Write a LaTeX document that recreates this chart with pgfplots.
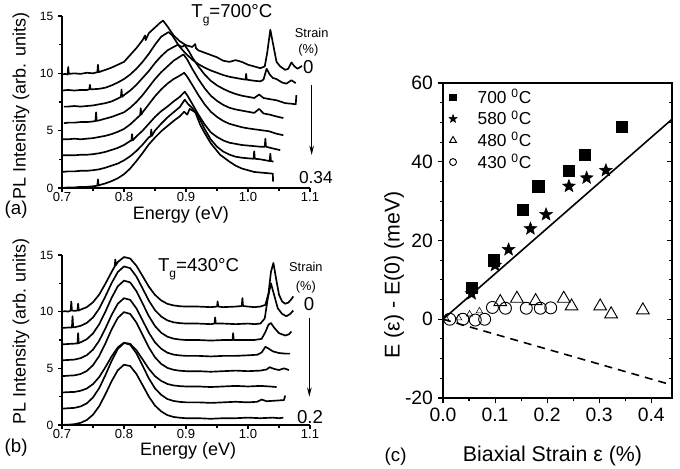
\documentclass[border=0pt]{standalone}
\usepackage{fontspec}
\setmainfont{Liberation Sans}
\usepackage{pgfplots}
\pgfplotsset{compat=1.18}
\usetikzlibrary{arrows.meta}

% filled five-point star
\pgfdeclareplotmark{fstar}{%
  \pgfpathmoveto{\pgfpointpolar{90}{\pgfplotmarksize}}%
  \pgfpathlineto{\pgfpointpolar{126}{0.42\pgfplotmarksize}}%
  \pgfpathlineto{\pgfpointpolar{162}{\pgfplotmarksize}}%
  \pgfpathlineto{\pgfpointpolar{198}{0.42\pgfplotmarksize}}%
  \pgfpathlineto{\pgfpointpolar{234}{\pgfplotmarksize}}%
  \pgfpathlineto{\pgfpointpolar{270}{0.42\pgfplotmarksize}}%
  \pgfpathlineto{\pgfpointpolar{306}{\pgfplotmarksize}}%
  \pgfpathlineto{\pgfpointpolar{342}{0.42\pgfplotmarksize}}%
  \pgfpathlineto{\pgfpointpolar{18}{\pgfplotmarksize}}%
  \pgfpathlineto{\pgfpointpolar{54}{0.42\pgfplotmarksize}}%
  \pgfpathclose
  \pgfusepathqfillstroke
}

\pgfplotsset{
  spec/.style={
    scale only axis, axis lines=left, axis line style={-, line width=0.8pt},
    xmin=0.7, xmax=1.1, ymin=0, ymax=15,
    xtick={0.7,0.8,0.9,1.0,1.1}, xticklabels={0.7,0.8,0.9,1.0,1.1},
    ytick={0,5,10,15}, yticklabels={0,5,10,15},
    minor x tick num=1, minor y tick num=1,
    tick align=outside, major tick length=3pt, minor tick length=2pt,
    tick style={line width=0.8pt, black},
    xticklabel style={font=\fontsize{9.8}{11}\selectfont, inner sep=0.5pt, yshift=0.3pt},
    yticklabel style={font=\fontsize{9}{10}\selectfont},
    label style={font=\fontsize{13.5}{15}\selectfont},
    clip=false,
  },
  crv/.style={black, line width=1.25pt, line join=round},
  limg/.style={legend image code/.code={%
    \draw[##1, mark size=#1] plot coordinates {(0.22cm,0cm)};
    \path (0pt,0pt) (22.5pt,0pt);}},
}

\begin{document}
\begin{tikzpicture}
\path[use as bounding box] (0,0) rectangle (510pt,351pt);

% ---------------- (a) Tg = 700 C
\begin{axis}[spec, at={(46.5pt,210pt)}, anchor=south west, width=186pt, height=129pt,
  xlabel={Energy (eV)}, ylabel={PL Intensity (arb. units)},
  xlabel style={at={(axis description cs:0.479,0)}, anchor=base, yshift=-23.5pt},
  ylabel style={at={(axis description cs:-0.165,0.477)}, anchor=center}]
\addplot[crv] coordinates {(0.700,9.9)(0.705,9.95)(0.709,9.9)(0.710,10.55)(0.711,9.95)(0.720,10.0)(0.730,9.95)(0.740,10.05)(0.750,10.0)(0.757,10.1)(0.758,10.75)(0.759,10.1)(0.770,10.3)(0.780,10.5)(0.790,10.75)(0.800,11.0)(0.810,11.6)(0.820,12.2)(0.830,12.9)(0.834,13.3)(0.835,12.9)(0.840,13.5)(0.850,14.0)(0.858,14.4)(0.863,14.6)(0.870,14.1)(0.880,13.3)(0.890,12.8)(0.900,12.45)(0.910,12.3)(0.915,12.55)(0.916,12.2)(0.920,12.0)(0.930,11.8)(0.940,11.6)(0.950,11.4)(0.960,11.1)(0.970,11.0)(0.980,11.15)(0.990,11.0)(1.000,10.75)(1.010,10.6)(1.020,10.45)(1.027,10.6)(1.031,11.8)(1.036,13.8)(1.041,12.4)(1.046,11.0)(1.052,10.6)(1.060,10.3)(1.065,10.4)(1.070,10.95)(1.075,10.6)(1.080,10.4)(1.087,10.65)};
\addplot[crv] coordinates {(0.700,8.5)(0.710,8.55)(0.720,8.5)(0.730,8.55)(0.740,8.55)(0.744,8.6)(0.745,9.0)(0.746,8.6)(0.760,8.65)(0.770,8.75)(0.780,8.95)(0.790,9.2)(0.800,9.5)(0.810,9.9)(0.820,10.4)(0.830,11.0)(0.840,11.7)(0.850,12.5)(0.860,13.2)(0.872,13.6)(0.878,13.3)(0.885,12.7)(0.890,12.3)(0.900,11.7)(0.910,11.2)(0.920,10.8)(0.930,10.5)(0.940,10.25)(0.950,10.05)(0.960,9.85)(0.970,9.7)(0.980,9.6)(0.990,9.5)(0.996,9.45)(0.997,9.95)(0.998,9.45)(1.010,9.35)(1.020,9.3)(1.025,9.45)(1.030,10.4)(1.035,9.9)(1.040,9.6)(1.046,9.5)(1.055,9.2)(1.062,9.1)(1.070,9.4)(1.077,9.15)};
\addplot[crv] coordinates {(0.703,7.1)(0.710,7.1)(0.720,7.15)(0.730,7.1)(0.740,7.15)(0.750,7.2)(0.760,7.3)(0.770,7.4)(0.780,7.55)(0.790,7.8)(0.795,7.95)(0.796,8.6)(0.797,7.95)(0.800,8.1)(0.810,8.5)(0.820,9.0)(0.830,9.6)(0.840,10.2)(0.850,10.9)(0.860,11.5)(0.870,12.0)(0.880,12.3)(0.887,12.5)(0.893,12.3)(0.898,12.45)(0.905,11.9)(0.910,11.4)(0.920,10.6)(0.930,9.9)(0.940,9.35)(0.950,8.95)(0.960,8.65)(0.970,8.4)(0.980,8.2)(0.990,8.05)(1.000,7.95)(1.010,7.85)(1.018,8.15)(1.025,7.85)(1.035,7.75)(1.046,7.65)(1.060,7.4)(1.070,7.35)(1.077,7.3)(1.078,8.1)};
\addplot[crv] coordinates {(0.703,5.65)(0.710,5.7)(0.720,5.7)(0.730,5.75)(0.740,5.75)(0.750,5.8)(0.754,5.85)(0.755,6.6)(0.756,5.85)(0.760,5.9)(0.770,6.05)(0.780,6.2)(0.790,6.4)(0.800,6.6)(0.810,7.0)(0.820,7.5)(0.830,8.1)(0.840,8.8)(0.850,9.5)(0.860,10.1)(0.870,10.6)(0.880,11.1)(0.890,11.45)(0.896,11.65)(0.902,11.2)(0.910,10.4)(0.920,9.5)(0.930,8.7)(0.940,8.05)(0.950,7.6)(0.960,7.25)(0.970,7.0)(0.980,6.85)(0.990,6.75)(1.000,6.65)(1.010,6.55)(1.018,6.9)(1.025,6.5)(1.035,6.4)(1.045,6.25)(1.057,6.1)};
\addplot[crv] coordinates {(0.700,4.25)(0.710,4.25)(0.720,4.3)(0.730,4.25)(0.740,4.3)(0.750,4.35)(0.760,4.45)(0.770,4.55)(0.780,4.7)(0.790,4.9)(0.800,5.15)(0.810,5.55)(0.820,6.05)(0.826,6.35)(0.827,6.95)(0.828,6.4)(0.830,6.6)(0.840,7.3)(0.850,8.0)(0.860,8.6)(0.870,9.1)(0.880,9.5)(0.890,9.8)(0.897,10.05)(0.902,9.7)(0.910,9.0)(0.920,8.1)(0.930,7.3)(0.940,6.65)(0.950,6.2)(0.960,5.85)(0.970,5.6)(0.980,5.45)(0.990,5.3)(1.000,5.2)(1.020,5.05)(1.034,4.95)(1.045,4.75)(1.057,4.6)};
\addplot[crv] coordinates {(0.700,2.85)(0.710,2.85)(0.720,2.85)(0.730,2.9)(0.740,2.9)(0.750,2.95)(0.760,3.03)(0.770,3.15)(0.780,3.32)(0.790,3.5)(0.800,3.75)(0.810,4.1)(0.812,4.15)(0.813,4.7)(0.814,4.15)(0.820,4.5)(0.830,5.0)(0.840,5.6)(0.850,6.2)(0.860,6.7)(0.870,7.1)(0.880,7.55)(0.890,7.95)(0.898,8.4)(0.903,8.0)(0.910,7.35)(0.920,6.4)(0.930,5.55)(0.940,4.85)(0.950,4.45)(0.960,4.15)(0.970,3.95)(0.980,3.85)(0.990,3.75)(1.000,3.7)(1.010,3.65)(1.020,3.6)(1.027,3.6)(1.028,4.3)(1.029,3.6)(1.040,3.45)(1.052,3.3)};
\addplot[crv] coordinates {(0.700,1.4)(0.710,1.45)(0.720,1.45)(0.730,1.5)(0.740,1.5)(0.750,1.55)(0.760,1.63)(0.770,1.77)(0.780,1.95)(0.790,2.13)(0.800,2.41)(0.810,2.77)(0.820,3.23)(0.830,3.78)(0.840,4.42)(0.843,4.5)(0.844,5.1)(0.845,4.55)(0.850,5.01)(0.860,5.61)(0.870,6.15)(0.880,6.61)(0.890,7.06)(0.898,7.7)(0.903,7.34)(0.910,6.98)(0.920,6.25)(0.930,5.15)(0.940,4.23)(0.950,3.6)(0.960,3.18)(0.970,2.91)(0.980,2.73)(0.990,2.64)(1.000,2.59)(1.009,2.55)(1.010,3.2)(1.011,2.55)(1.020,2.5)(1.030,2.4)(1.035,2.35)(1.036,3.0)(1.037,2.35)(1.041,2.3)};
\addplot[crv] coordinates {(0.700,0.0)(0.710,0.05)(0.720,0.05)(0.730,0.1)(0.740,0.1)(0.750,0.15)(0.757,0.2)(0.758,0.75)(0.759,0.2)(0.760,0.25)(0.770,0.4)(0.780,0.6)(0.790,0.85)(0.800,1.2)(0.810,1.7)(0.820,2.35)(0.830,3.05)(0.840,3.8)(0.850,4.4)(0.860,4.95)(0.870,5.4)(0.880,5.85)(0.890,6.25)(0.897,6.65)(0.902,6.4)(0.906,6.9)(0.915,6.6)(0.923,5.5)(0.930,4.8)(0.940,3.9)(0.955,2.9)(0.970,2.3)(0.980,1.95)(0.990,1.7)(1.000,1.55)(1.010,1.4)(1.020,1.35)(1.030,1.3)(1.040,1.25)(1.0405,0.55)};
\end{axis}

% ---------------- (b) Tg = 430 C
\begin{axis}[spec, at={(46.5pt,32.25pt)}, anchor=south west, width=186pt, height=127.5pt,
  xlabel={Energy (eV)}, ylabel={PL Intensity (arb. units)},
  xlabel style={at={(axis description cs:0.509,0)}, anchor=base, yshift=-23pt},
  ylabel style={at={(axis description cs:-0.165,0.55)}, anchor=center}]
\addplot[crv] coordinates {(0.700,10.0)(0.705,10.05)(0.710,10.0)(0.714,10.1)(0.715,10.9)(0.716,10.1)(0.720,10.07)(0.725,10.1)(0.726,10.7)(0.727,10.1)(0.730,10.18)(0.740,10.4)(0.750,10.83)(0.760,11.51)(0.770,12.47)(0.780,13.5)(0.785,14.0)(0.786,14.6)(0.787,14.1)(0.790,14.38)(0.800,14.82)(0.810,14.69)(0.820,14.05)(0.830,13.14)(0.840,12.21)(0.850,11.48)(0.860,10.99)(0.870,10.69)(0.880,10.55)(0.890,10.48)(0.900,10.45)(0.920,10.45)(0.940,10.4)(0.950,10.45)(0.951,10.9)(0.952,10.45)(0.960,10.4)(0.980,10.45)(0.990,10.5)(0.991,11.2)(0.992,10.5)(1.000,10.45)(1.010,10.4)(1.020,10.45)(1.028,10.6)(1.033,11.6)(1.037,13.5)(1.041,14.3)(1.045,13.0)(1.050,11.5)(1.055,10.9)(1.060,10.7)(1.065,10.8)(1.070,11.1)(1.073,11.35)};
\addplot[crv] coordinates {(0.700,8.56)(0.710,8.6)(0.716,8.6)(0.717,9.6)(0.718,8.62)(0.720,8.62)(0.730,8.75)(0.740,9.01)(0.750,9.49)(0.760,10.27)(0.770,11.35)(0.780,12.52)(0.790,13.5)(0.800,13.99)(0.810,13.84)(0.820,13.1)(0.830,12.05)(0.840,10.98)(0.850,10.13)(0.860,9.57)(0.870,9.23)(0.880,9.06)(0.890,8.99)(0.900,8.95)(0.920,8.95)(0.940,8.9)(0.946,8.95)(0.947,9.5)(0.948,8.95)(0.960,8.95)(0.980,8.9)(1.000,8.95)(1.010,8.9)(1.020,8.95)(1.027,9.4)(1.032,11.2)(1.037,12.5)(1.042,11.5)(1.048,10.3)(1.055,9.8)(1.062,9.6)(1.068,9.8)(1.073,10.1)};
\addplot[crv] coordinates {(0.700,7.11)(0.710,7.15)(0.720,7.18)(0.725,7.2)(0.726,8.1)(0.727,7.22)(0.730,7.3)(0.740,7.57)(0.750,8.08)(0.760,8.89)(0.770,10.0)(0.780,11.22)(0.790,12.24)(0.800,12.74)(0.810,12.58)(0.820,11.81)(0.830,10.72)(0.840,9.61)(0.850,8.73)(0.860,8.14)(0.870,7.79)(0.880,7.62)(0.890,7.54)(0.900,7.5)(0.920,7.5)(0.940,7.45)(0.960,7.5)(0.975,7.5)(0.976,8.1)(0.977,7.5)(0.990,7.5)(1.010,7.5)(1.022,7.6)(1.028,8.2)(1.033,8.85)(1.037,9.0)(1.042,8.6)(1.050,8.1)(1.060,7.9)(1.066,8.0)(1.070,8.25)};
\addplot[crv] coordinates {(0.700,5.71)(0.710,5.74)(0.720,5.77)(0.730,5.9)(0.740,6.16)(0.750,6.65)(0.760,7.44)(0.770,8.52)(0.780,9.71)(0.790,10.7)(0.800,11.19)(0.810,11.04)(0.820,10.29)(0.830,9.23)(0.840,8.15)(0.850,7.29)(0.860,6.73)(0.870,6.38)(0.880,6.21)(0.890,6.14)(0.900,6.1)(0.920,6.1)(0.940,6.05)(0.960,6.1)(0.980,6.1)(1.000,6.15)(1.015,6.2)(1.022,6.4)(1.028,6.9)(1.033,6.75)(1.040,6.5)(1.050,6.35)(1.060,6.3)(1.068,6.3)};
\addplot[crv] coordinates {(0.700,4.31)(0.710,4.35)(0.720,4.38)(0.730,4.5)(0.740,4.77)(0.750,5.28)(0.760,6.09)(0.770,7.2)(0.780,8.43)(0.790,9.45)(0.800,9.96)(0.810,9.8)(0.820,9.04)(0.830,7.95)(0.840,6.85)(0.850,5.97)(0.860,5.39)(0.870,5.04)(0.880,4.87)(0.890,4.79)(0.900,4.75)(0.920,4.75)(0.940,4.7)(0.960,4.75)(0.980,4.8)(1.000,4.75)(1.020,4.8)(1.030,4.9)(1.035,5.1)(1.042,4.95)(1.050,4.85)(1.058,5.0)(1.066,4.85)};
\addplot[crv] coordinates {(0.700,2.87)(0.710,2.9)(0.720,2.92)(0.730,3.02)(0.740,3.22)(0.750,3.61)(0.760,4.23)(0.770,5.1)(0.780,6.05)(0.790,6.85)(0.800,7.26)(0.810,7.16)(0.820,6.6)(0.830,5.79)(0.840,4.96)(0.850,4.31)(0.860,3.89)(0.870,3.62)(0.880,3.49)(0.890,3.43)(0.900,3.4)(0.920,3.4)(0.940,3.35)(0.960,3.4)(0.980,3.45)(1.000,3.4)(1.020,3.45)(1.035,3.4)(1.046,3.35)};
\addplot[crv] coordinates {(0.700,1.44)(0.710,1.48)(0.720,1.51)(0.730,1.64)(0.740,1.91)(0.750,2.43)(0.760,3.25)(0.770,4.4)(0.780,5.65)(0.790,6.71)(0.800,7.24)(0.810,7.09)(0.820,6.32)(0.830,5.23)(0.840,4.12)(0.850,3.23)(0.860,2.66)(0.870,2.29)(0.880,2.12)(0.890,2.04)(0.900,2.0)(0.920,2.0)(0.940,1.95)(0.960,2.0)(0.980,2.05)(1.000,2.0)(1.015,2.05)(1.022,2.25)(1.030,2.1)(1.045,2.15)(1.058,2.2)(1.060,2.6)};
\addplot[crv] coordinates {(0.700,0.01)(0.710,0.03)(0.720,0.07)(0.730,0.19)(0.740,0.44)(0.750,0.91)(0.760,1.66)(0.770,2.71)(0.780,3.86)(0.790,4.83)(0.800,5.32)(0.810,5.2)(0.820,4.51)(0.830,3.52)(0.840,2.51)(0.850,1.71)(0.860,1.2)(0.870,0.87)(0.880,0.71)(0.890,0.64)(0.900,0.6)(0.920,0.6)(0.940,0.55)(0.960,0.6)(0.980,0.6)(1.000,0.65)(1.020,0.6)(1.040,0.65)(1.050,0.6)(1.057,0.65)};
\end{axis}

% ---------------- (c) shift vs strain
\begin{axis}[at={(332.25pt,52.5pt)}, anchor=south west, scale only axis,
  width=171.75pt, height=236.25pt,
  xmin=0, xmax=0.44, ymin=-20, ymax=60,
  xtick={0,0.1,0.2,0.3,0.4}, xticklabels={0.0,0.1,0.2,0.3,0.4},
  ytick={-20,0,20,40,60}, yticklabels={-20,0,20,40,60},
  minor x tick num=1, minor y tick num=3,
  xtick pos=bottom, ytick pos=left, tick align=outside,
  major tick length=4pt, minor tick length=2.5pt,
  tick style={line width=0.8pt, black}, axis line style={line width=0.8pt},
  ticklabel style={font=\fontsize{14.5}{16}\selectfont},
  label style={font=\fontsize{16}{18}\selectfont},
  xlabel={Biaxial Strain ε (\%)}, ylabel={E (ε) - E(0) (meV)},
  xlabel style={at={(axis description cs:0.478,0)}, anchor=base, yshift=-47.5pt},
  ylabel style={at={(axis description cs:-0.214,0.39)}, anchor=center},
  legend style={draw=none, fill=none, at={(axis description cs:0.005,0.99)}, anchor=north west,
    font=\fontsize{13}{15}\selectfont, row sep=0pt, inner sep=0pt},
  legend cell align=left,
  clip=false]
\addplot[black, line width=1.2pt, forget plot] coordinates {(0,0)(0.44,50.8)};
\addplot[black, line width=1.2pt, dash pattern=on 6pt off 4.5pt, forget plot] coordinates {(0,0)(0.44,-16.7)};
\addplot[only marks, mark=square*, mark size=4.2pt, black, limg=2.5pt]
  coordinates {(0.055,8.0)(0.097,15.0)(0.154,27.8)(0.183,33.8)(0.241,37.8)(0.273,41.8)(0.343,48.8)};
\addlegendentry{700 \textsuperscript{0}C}
\addplot[only marks, mark=fstar, mark size=5pt, black, limg=3.2pt]
  coordinates {(0.055,6.5)(0.100,13.7)(0.126,17.7)(0.168,23.0)(0.198,26.6)(0.242,33.8)(0.276,35.9)(0.313,37.8)};
\addlegendentry{580 \textsuperscript{0}C}
\addplot[only marks, mark=triangle, mark size=2.8pt, black, fill=white, forget plot]
  coordinates {(0.005,0.3)(0.030,0.3)(0.051,1.3)(0.070,2.1)};
\addplot[only marks, mark=triangle, mark size=5.5pt, black, fill=white, mark options={line width=0.7pt}, limg=3pt]
  coordinates {(0.110,4.4)(0.142,5.25)(0.178,4.65)(0.232,5.25)(0.247,3.3)(0.302,3.3)(0.323,1.3)(0.384,2.3)};
\addlegendentry{480 \textsuperscript{0}C}
\addplot[only marks, mark=o, mark size=4.5pt, black, fill=white, mark options={line width=0.7pt}, limg=2.6pt]
  coordinates {(0.013,0.0)(0.038,0.0)(0.062,-0.2)(0.080,0.0)(0.095,3.0)(0.120,2.8)(0.160,2.8)(0.187,2.8)(0.207,2.9)};
\addlegendentry{430 \textsuperscript{0}C}
\end{axis}
% inward ticks on the right-hand frame of (c)
\begin{axis}[at={(332.25pt,52.5pt)}, anchor=south west, scale only axis,
  width=171.75pt, height=236.25pt,
  xmin=0, xmax=0.44, ymin=-20, ymax=60,
  axis x line=none, axis y line*=right, axis line style={-, line width=0.8pt},
  ytick={-20,0,20,40,60}, yticklabels={}, minor y tick num=3,
  tick align=inside, major tick length=4pt, minor tick length=2.5pt,
  tick style={line width=0.8pt, black}]
\end{axis}

% ---------------- annotations
\node[anchor=base west, font=\fontsize{14}{16}\selectfont] at (140pt,337.5pt) {T\raisebox{-0.55ex}{\fontsize{9}{10}\selectfont g}=700°C};
\node[anchor=base, font=\fontsize{9.6}{11}\selectfont] at (233.75pt,323pt) {Strain};
\node[anchor=base, font=\fontsize{9.6}{11}\selectfont] at (231.25pt,311pt) {(\%)};
\node[anchor=base, font=\fontsize{14}{16}\selectfont] at (231.25pt,295.5pt) {0};
\draw[line width=0.9pt, -{Stealth[length=7pt,width=3.5pt]}] (233.75pt,287.25pt) -- (233.75pt,234.75pt);
\node[anchor=base, font=\fontsize{13}{15}\selectfont] at (236.9pt,213.5pt) {0.34};
\node[anchor=base west, font=\fontsize{14}{16}\selectfont] at (0pt,189.75pt) {(a)};

\node[anchor=base west, font=\fontsize{14}{16}\selectfont] at (115pt,147.2pt) {T\raisebox{-0.55ex}{\fontsize{9}{10}\selectfont g}=430°C};
\node[anchor=base, font=\fontsize{9.6}{11}\selectfont] at (229.4pt,147.25pt) {Strain};
\node[anchor=base, font=\fontsize{9.6}{11}\selectfont] at (229.4pt,133.5pt) {(\%)};
\node[anchor=base, font=\fontsize{14}{16}\selectfont] at (231.75pt,118.5pt) {0};
\draw[line width=0.9pt, -{Stealth[length=7pt,width=3.5pt]}] (232pt,112.25pt) -- (232pt,53.5pt);
\node[anchor=base, font=\fontsize{14}{16}\selectfont] at (232.5pt,33.5pt) {0.2};
\node[anchor=base west, font=\fontsize{14}{16}\selectfont] at (0pt,11.5pt) {(b)};

\node[anchor=base west, font=\fontsize{14}{16}\selectfont] at (285pt,4.75pt) {(c)};
\end{tikzpicture}
\end{document}
